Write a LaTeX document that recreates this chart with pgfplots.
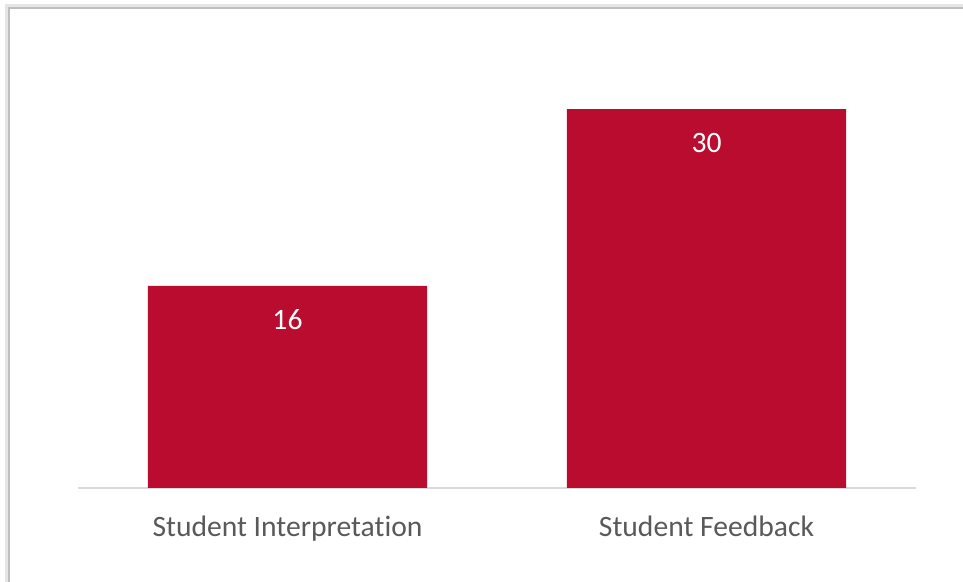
\documentclass[border=0pt]{standalone}
\usepackage{pgfplots}
\pgfplotsset{compat=1.18}
\usepackage{fontspec}
\setmainfont{Carlito}[Ligatures={NoCommon}]
\definecolor{barred}{HTML}{BA0C2F}
\definecolor{ticktext}{HTML}{595959}
\definecolor{axisgray}{HTML}{D9D9D9}
\begin{document}
\begin{tikzpicture}
\useasboundingbox (-39pt,-47pt) rectangle (442.5pt,244pt);
\draw[color=black!10, line width=1.5pt] (-35.5pt,-47pt) -- (-35.5pt,241pt) -- (442.5pt,241pt);
\draw[color=black!25, line width=0.8pt] (-34.5pt,-47pt) -- (-34.5pt,240pt) -- (442.5pt,240pt);
\begin{axis}[
  at={(0,0)}, anchor=south west,
  scale only axis, width=419pt, height=221pt,
  xmin=-0.5, xmax=1.5, ymin=0, ymax=35,
  axis x line*=bottom, axis y line=none,
  x axis line style={axisgray, line width=1pt, -},
  xtick=data, xticklabels={Student Interpretation, Student Feedback},
  xtick style={draw=none},
  ytick=\empty,
  /pgf/number format/assume math mode=true,
  tick label style={font=\fontsize{14.8}{17}\selectfont, text=ticktext},
  xticklabel style={yshift=-6pt},
  ybar, bar width=0.667,
  nodes near coords,
  every node near coord/.append style={anchor=center, yshift=-17pt, text=white, font=\fontsize{14.8}{17}\selectfont},
]
\addplot[fill=barred, draw=none] coordinates {(0,16) (1,30)};
\end{axis}
\end{tikzpicture}
\end{document}
